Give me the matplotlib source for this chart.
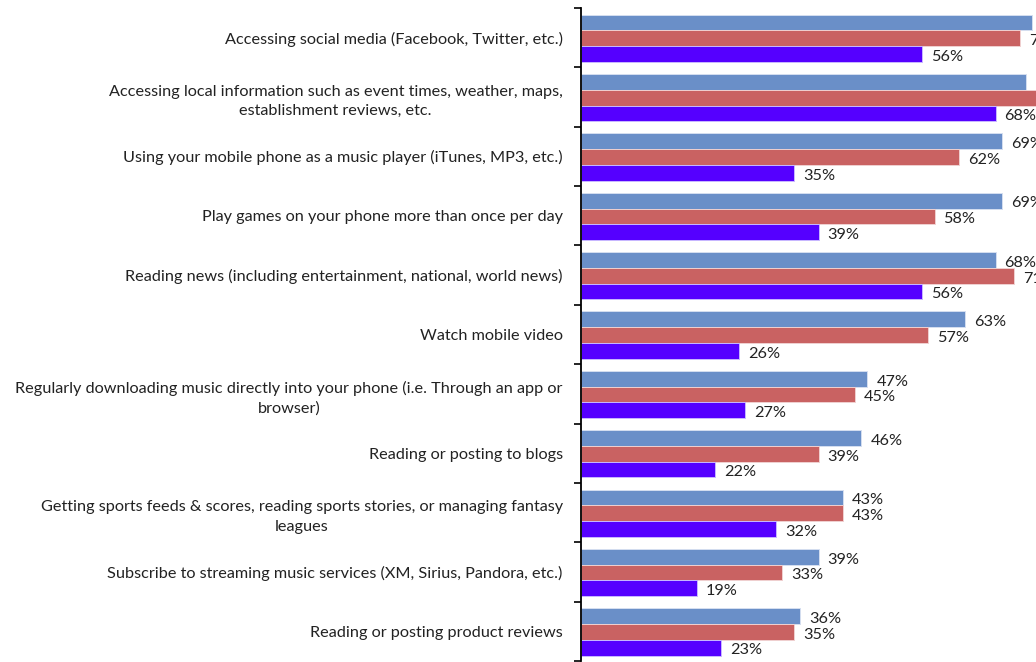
import numpy as np
import matplotlib.pyplot as plt

plt.rcParams['font.family'] = ['Lato', 'DejaVu Sans']

# survey activities, top to bottom
activities = [
    "Accessing social media (Facebook, Twitter, etc.)",
    "Accessing local information such as event times, weather, maps,\nestablishment reviews, etc.",
    "Using your mobile phone as a music player (iTunes, MP3, etc.)",
    "Play games on your phone more than once per day",
    "Reading news (including entertainment, national, world news)",
    "Watch mobile video",
    "Regularly downloading music directly into your phone (i.e. Through an app or\nbrowser)",
    "Reading or posting to blogs",
    "Getting sports feeds & scores, reading sports stories, or managing fantasy\nleagues",
    "Subscribe to streaming music services (XM, Sirius, Pandora, etc.)",
    "Reading or posting product reviews",
]

# percentages for the three respondent groups
group_a = [74, 73, 69, 69, 68, 63, 47, 46, 43, 39, 36]
group_b = [72, 76, 62, 58, 71, 57, 45, 39, 43, 33, 35]
group_c = [56, 68, 35, 39, 56, 26, 27, 22, 32, 19, 23]

colors = ["#6A8FC8", "#C96262", "#5500FF"]
edges = ["#D5DEF0", "#F0D0D0", "#C8B8FF"]

fig = plt.figure(figsize=(10.36, 6.62), dpi=100)
# axes run past the right edge of the figure, so the longest bars get cut off
ax = fig.add_axes([580.7 / 1036, 1 / 662, 610 / 1036, 653 / 662])

y = np.arange(len(activities))
h = 0.265
for k, (vals, c, ec) in enumerate(zip([group_a, group_b, group_c], colors, edges)):
    pos = y + (k - 1) * h + 0.01
    bars = ax.barh(pos, vals, height=h, color=c, edgecolor=ec, linewidth=0.7)
    for b, v in zip(bars, vals):
        ax.annotate(f"{v}%", (v, b.get_y() + b.get_height() / 2),
                    xytext=(6.5, -2), textcoords="offset points",
                    ha="left", va="center", fontsize=11.7, color="#222222",
                    annotation_clip=False)

ax.set_xlim(0, 100)
ax.set_ylim(len(activities) - 0.5, -0.5)

ax.set_yticks(y)
ax.set_yticklabels(activities, fontsize=11.7, color="#222222",
                   multialignment="center", linespacing=1.5)
ax.tick_params(axis="y", which="major", length=0, pad=13)
ax.set_yticks(np.arange(-0.5, len(activities)), minor=True)
ax.tick_params(axis="y", which="minor", length=5, width=1.2, direction="out")

ax.set_xticks([])
for s in ["top", "right", "bottom"]:
    ax.spines[s].set_visible(False)
ax.spines["left"].set_linewidth(1.3)

fig.savefig("out.png", dpi=100)
